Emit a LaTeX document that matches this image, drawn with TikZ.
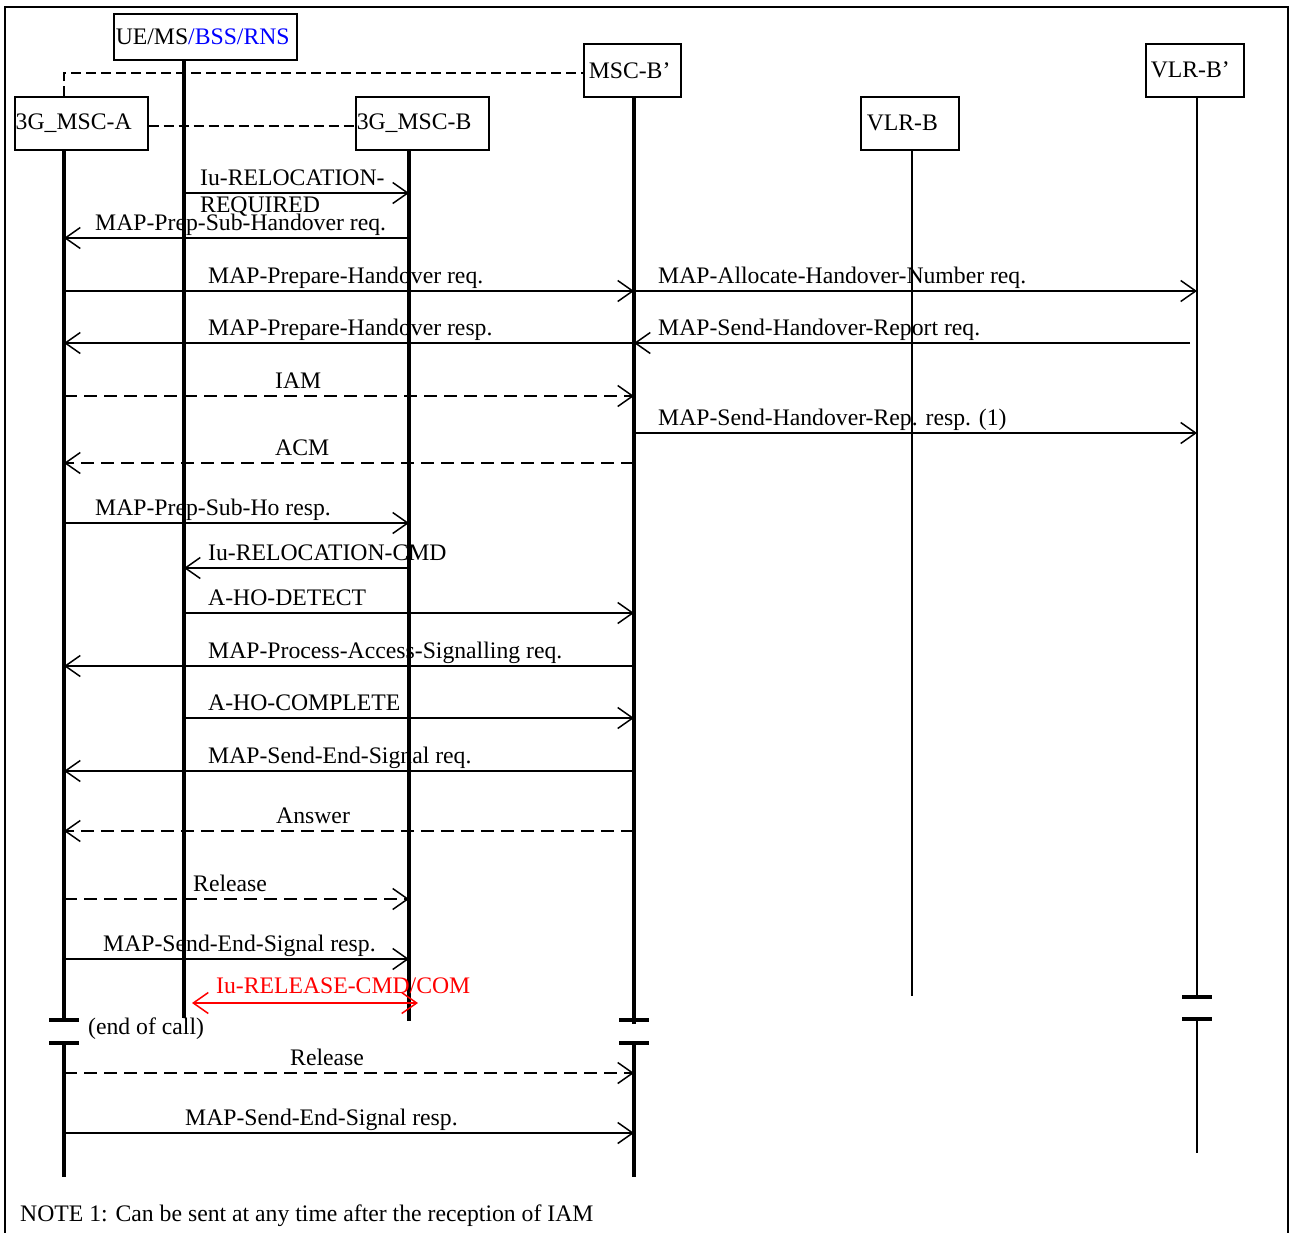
\documentclass[tikz,border=0pt]{standalone}
\usepackage{fontspec}
\setmainfont{Liberation Serif}
\usetikzlibrary{arrows.meta}
\definecolor{pblue}{RGB}{0,0,255}
\definecolor{pred}{RGB}{255,0,0}
\begin{document}
\begin{tikzpicture}[x=1pt,y=-1pt,
  every node/.style={font=\fontsize{23.7}{27}\selectfont, inner sep=0pt},
  box/.style={draw, line width=1.5pt, anchor=north west, inner ysep=0pt, align=left},
  life/.style={line width=3.2pt},
  thinlife/.style={line width=2.3pt},
  msg/.style={line width=1.5pt, -{Straight Barb[length=15pt,width=21pt]}},
  dmsg/.style={msg, dash pattern=on 13pt off 7pt},
  dline/.style={line width=1.8pt, dash pattern=on 10pt off 5pt},
  lbl/.style={anchor=base west},
  endbar/.style={line width=3.5pt}
]
\useasboundingbox (0,0) rectangle (1289,1232);
\draw[line width=1.5pt] (5,1240) -- (5,7) -- (1288,7) -- (1288,1240);

% boxes
\node[box, inner xsep=2pt, text width=179pt, minimum height=46pt] (ue) at (113,13) {UE/MS\textcolor{pblue}{/BSS/RNS}};
\node[box, inner xsep=1pt, text width=131pt, minimum height=53pt] (A) at (14,96) {3G\_MSC-A};
\node[box, inner xsep=1pt, text width=131pt, minimum height=53pt] (B) at (355,96) {3G\_MSC-B};
\node[box, inner xsep=5pt, text width=87pt, minimum height=53pt] (Bp) at (583,43) {MSC-B’};
\node[box, inner xsep=6pt, text width=86pt, minimum height=53pt] (V) at (860,96) {VLR-B};
\node[box, inner xsep=5pt, text width=88pt, minimum height=53pt] (Vp) at (1145,43) {VLR-B’};

% lifeline x positions
\coordinate (xUE) at (184,0);
\coordinate (xA) at (64,0);
\coordinate (xB) at (409,0);
\coordinate (xBp) at (634,0);
\coordinate (xV) at (912,0);
\coordinate (xVp) at (1197,0);

% dashed links between boxes
\draw[dline] (A.north -| xA) -- (xA |- 0,73) -- (Bp.west |- 0,73);
\draw[dline] (A.east |- 0,126) -- (B.west |- 0,126);

% lifelines
\draw[life] (ue.south -| xUE) -- (xUE |- 0,1018);
\draw[life] (A.south -| xA) -- (xA |- 0,1020);
\draw[life] (xA |- 0,1043) -- (xA |- 0,1177);
\draw[life] (B.south -| xB) -- (xB |- 0,1021);
\draw[life] (Bp.south -| xBp) -- (xBp |- 0,1024);
\draw[life] (xBp |- 0,1043) -- (xBp |- 0,1177);
\draw[thinlife] (V.south -| xV) -- (xV |- 0,996);
\draw[thinlife] (Vp.south -| xVp) -- (xVp |- 0,997);
\draw[thinlife] (xVp |- 0,1019) -- (xVp |- 0,1153);

% end-of-call bars
\draw[endbar] ([xshift=-15pt]xA |- 0,1020) -- ([xshift=15pt]xA |- 0,1020);
\draw[endbar] ([xshift=-15pt]xA |- 0,1043) -- ([xshift=15pt]xA |- 0,1043);
\draw[endbar] ([xshift=-15pt]xBp |- 0,1020) -- ([xshift=15pt]xBp |- 0,1020);
\draw[endbar] ([xshift=-15pt]xBp |- 0,1043) -- ([xshift=15pt]xBp |- 0,1043);
\draw[endbar] ([xshift=-15pt]xVp |- 0,997) -- ([xshift=15pt]xVp |- 0,997);
\draw[endbar] ([xshift=-15pt]xVp |- 0,1019) -- ([xshift=15pt]xVp |- 0,1019);

% messages
\draw[msg] (xUE |- 0,193) -- (xB |- 0,193);
\node[anchor=west, align=left] (m1) at (200,193) {Iu-RELOCATION-\\REQUIRED};

\draw[msg] (xB |- 0,238) -- (xA |- 0,238);
\node[lbl] (m2) at (95,230) {MAP-Prep-Sub-Handover req.};

\draw[msg] (xA |- 0,291) -- (xBp |- 0,291);
\node[lbl] (m3) at (208,283) {MAP-Prepare-Handover req.};

\draw[msg] (xBp |- 0,291) -- (xVp |- 0,291);
\node[lbl] (m4) at (658,283) {MAP-Allocate-Handover-Number req.};

\draw[msg] (xBp |- 0,343) -- (xA |- 0,343);
\node[lbl] (m5) at (208,335) {MAP-Prepare-Handover resp.};

\draw[msg, shorten <=7pt] (xVp |- 0,343) -- (xBp |- 0,343);
\node[lbl] (m6) at (658,335) {MAP-Send-Handover-Report req.};

\draw[dmsg] (xA |- 0,396) -- (xBp |- 0,396);
\node[lbl] (m7) at (275,388) {IAM};

\draw[msg] (xBp |- 0,433) -- (xVp |- 0,433);
\node[lbl] (m8) at (658,425) {MAP-Send-Handover-Rep. resp. (1)};

\draw[dmsg] (xBp |- 0,463) -- (xA |- 0,463);
\node[lbl] (m9) at (275,455) {ACM};

\draw[msg] (xA |- 0,523) -- (xB |- 0,523);
\node[lbl] (m10) at (95,515) {MAP-Prep-Sub-Ho resp.};

\draw[msg] (xB |- 0,568) -- (xUE |- 0,568);
\node[lbl] (m11) at (208,560) {Iu-RELOCATION-CMD};

\draw[msg] (xUE |- 0,613) -- (xBp |- 0,613);
\node[lbl] (m12) at (208,605) {A-HO-DETECT};

\draw[msg] (xBp |- 0,666) -- (xA |- 0,666);
\node[lbl] (m13) at (208,658) {MAP-Process-Access-Signalling req.};

\draw[msg] (xUE |- 0,718) -- (xBp |- 0,718);
\node[lbl] (m14) at (208,710) {A-HO-COMPLETE};

\draw[msg] (xBp |- 0,771) -- (xA |- 0,771);
\node[lbl] (m15) at (208,763) {MAP-Send-End-Signal req.};

\draw[dmsg] (xBp |- 0,831) -- (xA |- 0,831);
\node[lbl] (m16) at (276,823) {Answer};

\draw[dmsg] (xA |- 0,899) -- (xB |- 0,899);
\node[lbl] (m17) at (193,891) {Release};

\draw[msg] (xA |- 0,959) -- (xB |- 0,959);
\node[lbl] (m18) at (103,951) {MAP-Send-End-Signal resp.};

\coordinate (r1) at (192,1003);
\coordinate (r2) at (418,1003);
\draw[msg, pred, {Straight Barb[length=15pt,width=21pt]}-{Straight Barb[length=15pt,width=21pt]}] (r1) -- (r2);
\node[lbl, text=pred] (m19) at (216,993) {Iu-RELEASE-CMD/COM};

\node[lbl] (eoc) at (88,1034) {(end of call)};

\draw[dmsg] (xA |- 0,1073) -- (xBp |- 0,1073);
\node[lbl] (m20) at (290,1065) {Release};

\draw[msg] (xA |- 0,1133) -- (xBp |- 0,1133);
\node[lbl] (m21) at (185,1125) {MAP-Send-End-Signal resp.};

\node[lbl] (note) at (20,1221) {NOTE 1: Can be sent at any time after the reception of IAM};
\end{tikzpicture}
\end{document}
